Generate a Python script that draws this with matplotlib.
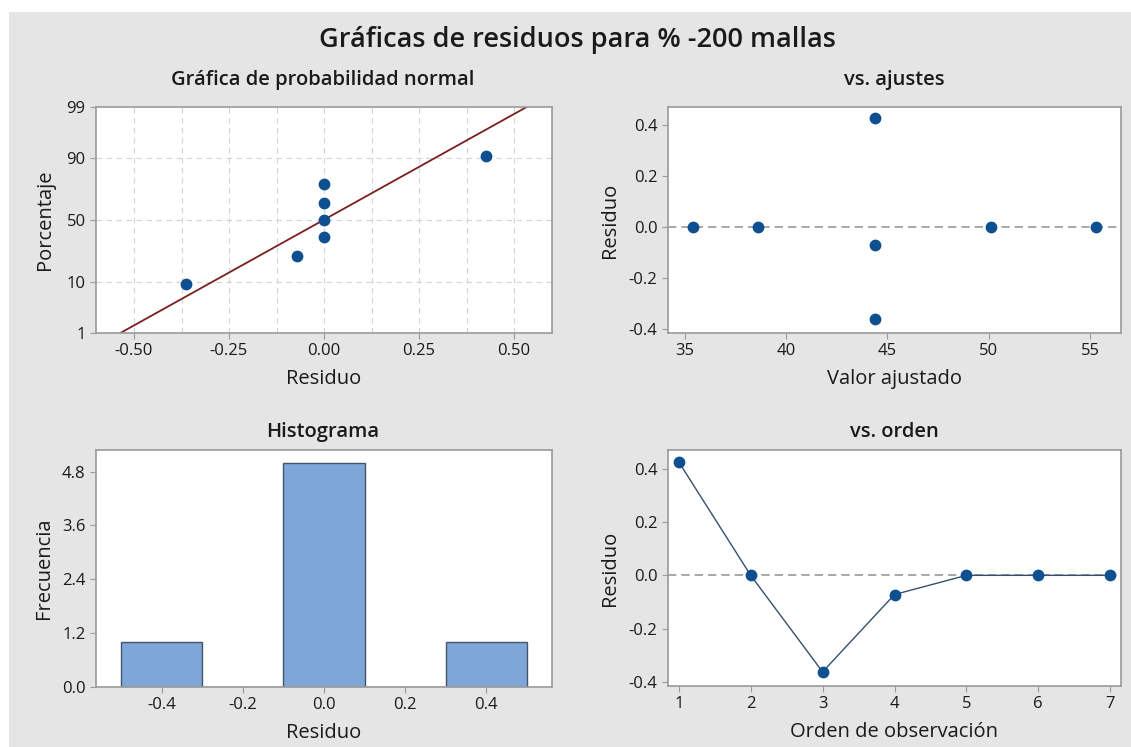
import matplotlib
matplotlib.use("Agg")
import matplotlib.pyplot as plt
from matplotlib.patches import Rectangle
from statistics import NormalDist
import numpy as np

plt.rcParams["font.family"] = ["Open Sans", "DejaVu Sans"]

# ---------------------------------------------------------
# Data
# ---------------------------------------------------------
order = [1, 2, 3, 4, 5, 6, 7]
residuals = [0.425, 0.0, -0.362, -0.072, 0.0, 0.0, 0.0]
fitted = [44.4, 35.4, 44.4, 44.4, 38.6, 50.1, 55.3]

prob_pct = [9.5, 23.0, 36.5, 50.0, 63.5, 77.0, 90.5]
prob_ticks = [1, 10, 50, 90, 99]

hist_centers = [-0.4, -0.2, 0.0, 0.2, 0.4]
hist_counts = [1, 0, 5, 0, 1]

title = "Gráficas de residuos para % -200 mallas"

MARK = "#0d4f8f"
TXT = "#1a1a1a"
SPINE = "#9a9a9a"
BG = "#e5e5e5"
LBL = 14.5
MS = 72

nd = NormalDist()


def style(ax):
    for s in ax.spines.values():
        s.set_color(SPINE)
        s.set_linewidth(1.2)
    ax.tick_params(colors=SPINE, labelcolor=TXT, labelsize=12, length=4, width=0.8)
    ax.set_facecolor("white")


fig = plt.figure(figsize=(11.31, 7.47), dpi=100, facecolor="white")
fig.patches.append(Rectangle((9 / 1131, 0), 1, 1 - 12 / 747, transform=fig.transFigure,
                             facecolor=BG, edgecolor="none", zorder=-10))

W, H = 1131, 747


def add_ax(x0, x1, y0, y1):
    return fig.add_axes([x0 / W, 1 - y1 / H, (x1 - x0) / W, (y1 - y0) / H])


def sub_title(text, x, y):
    fig.text(x / W, 1 - y / H, text, ha="center", va="center", fontsize=14.5,
             color=TXT, fontweight="semibold")


ax1 = add_ax(96, 552, 107, 333)
ax2 = add_ax(668, 1121, 107, 333)
ax3 = add_ax(96, 552, 450, 687)
ax4 = add_ax(668, 1121, 450, 686)

# --- normal probability plot ---
style(ax1)
zlim = nd.inv_cdf(0.01)
res_sorted = sorted(residuals)
z_pts = [nd.inv_cdf(p / 100) for p in prob_pct]
mu = np.mean(residuals)
sd = np.std(residuals, ddof=1)
for gx in np.arange(-0.5, 0.51, 0.125):
    ax1.axvline(gx, color="#d4d4d4", lw=0.8, ls=(0, (5, 4)), zorder=0)
for gp in [10, 50, 90]:
    ax1.axhline(nd.inv_cdf(gp / 100), color="#d4d4d4", lw=0.8, ls=(0, (5, 4)), zorder=0)
zz = np.array([zlim, -zlim])
ax1.plot(mu + sd * zz, zz, color="#7a1f1f", lw=1.3, zorder=2)
ax1.scatter(res_sorted, z_pts, s=MS, color=MARK, zorder=3, linewidths=0)
ax1.set_xlim(-0.6, 0.6)
ax1.set_ylim(zlim, -zlim)
ax1.set_xticks([-0.5, -0.25, 0.0, 0.25, 0.5])
ax1.set_xticklabels([f"{v:.2f}" for v in [-0.5, -0.25, 0.0, 0.25, 0.5]])
ax1.set_yticks([nd.inv_cdf(p / 100) for p in prob_ticks])
ax1.set_yticklabels([str(p) for p in prob_ticks])
ax1.set_xlabel("Residuo", fontsize=LBL, color=TXT, labelpad=7)
ax1.set_ylabel("Porcentaje", fontsize=LBL, color=TXT, labelpad=8)
sub_title("Gráfica de probabilidad normal", 323, 80)

# --- residual vs fitted ---
style(ax2)
ax2.axhline(0, color="#9a9a9a", lw=1.2, ls=(0, (5, 3)), zorder=1)
ax2.scatter(fitted, residuals, s=MS, color=MARK, zorder=3, linewidths=0)
ax2.set_xlim(34.17, 56.53)
ax2.set_ylim(-0.415, 0.47)
ax2.set_xticks([35, 40, 45, 50, 55])
ax2.set_yticks([-0.4, -0.2, 0.0, 0.2, 0.4])
ax2.set_yticklabels([f"{v:.1f}" for v in [-0.4, -0.2, 0.0, 0.2, 0.4]])
ax2.set_xlabel("Valor ajustado", fontsize=LBL, color=TXT, labelpad=7)
ax2.set_ylabel("Residuo", fontsize=LBL, color=TXT, labelpad=6)
sub_title("vs. ajustes", 894, 80)

# --- histogram ---
style(ax3)
ax3.bar(hist_centers, hist_counts, width=0.2, color="#7ea6d8", edgecolor="#45546a", lw=1.0, zorder=2)
ax3.set_xlim(-0.562, 0.562)
ax3.set_ylim(0, 5.28)
ax3.set_xticks([-0.4, -0.2, 0.0, 0.2, 0.4])
ax3.set_xticklabels([f"{v:.1f}" for v in [-0.4, -0.2, 0.0, 0.2, 0.4]])
ax3.set_yticks([0, 1.2, 2.4, 3.6, 4.8])
ax3.set_yticklabels([f"{v:.1f}" for v in [0, 1.2, 2.4, 3.6, 4.8]])
ax3.set_xlabel("Residuo", fontsize=LBL, color=TXT, labelpad=7)
ax3.set_ylabel("Frecuencia", fontsize=LBL, color=TXT, labelpad=6)
sub_title("Histograma", 323, 432)

# --- residual vs order ---
style(ax4)
ax4.axhline(0, color="#9a9a9a", lw=1.2, ls=(0, (5, 3)), zorder=1)
ax4.plot(order, residuals, color="#34506e", lw=1.0, zorder=2)
ax4.scatter(order, residuals, s=MS, color=MARK, zorder=3, linewidths=0)
ax4.set_xlim(0.85, 7.15)
ax4.set_ylim(-0.415, 0.47)
ax4.set_xticks(order)
ax4.set_yticks([-0.4, -0.2, 0.0, 0.2, 0.4])
ax4.set_yticklabels([f"{v:.1f}" for v in [-0.4, -0.2, 0.0, 0.2, 0.4]])
ax4.set_xlabel("Orden de observación", fontsize=LBL, color=TXT, labelpad=7)
ax4.set_ylabel("Residuo", fontsize=LBL, color=TXT, labelpad=6)
sub_title("vs. orden", 894, 432)

fig.text(577 / W, 1 - 40 / H, title, ha="center", va="center", fontsize=19.5,
         color=TXT, fontweight="semibold")

fig.savefig("out.png", dpi=100, facecolor=fig.get_facecolor())
